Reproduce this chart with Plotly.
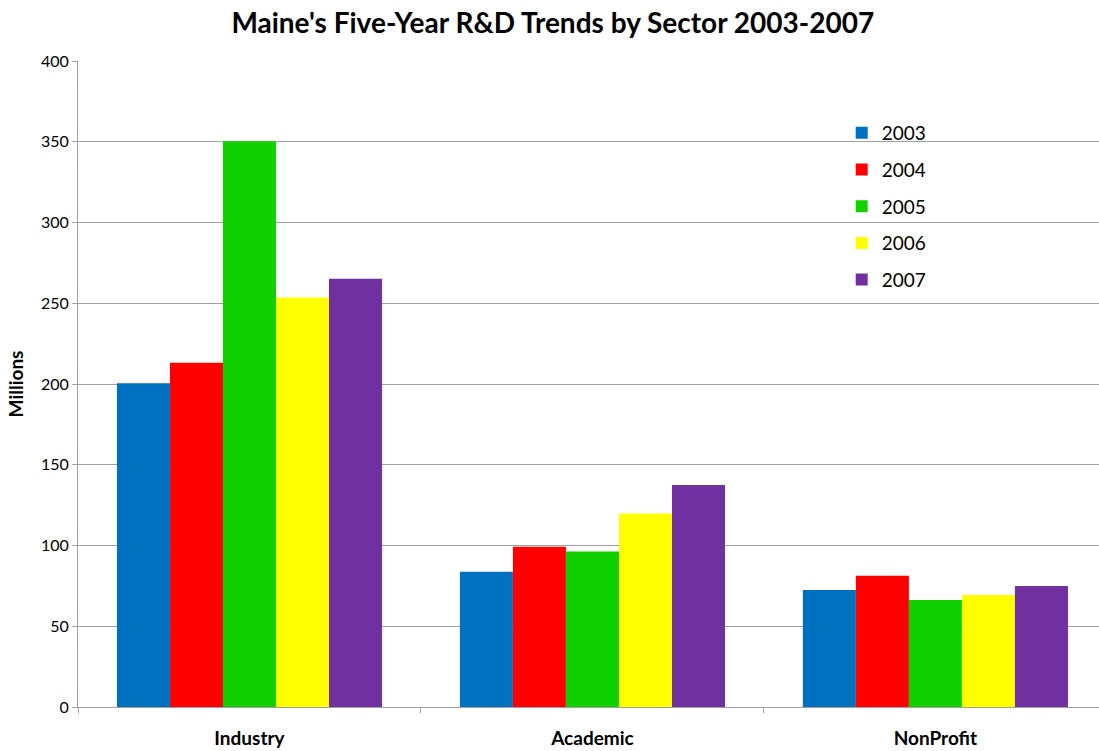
import plotly.graph_objects as go

categories = ["Industry", "Academic", "NonProfit"]
years = ["2003", "2004", "2005", "2006", "2007"]
v2003 = [200.5, 83.7, 72.5]
v2004 = [213.2, 99.3, 81.2]
v2005 = [350.3, 96.3, 66.3]
v2006 = [253.5, 119.8, 69.4]
v2007 = [265.2, 137.4, 75.0]
colors = ["#0070C0", "#FF0000", "#10D000", "#FFFF00", "#7030A0"]
y_ticks = [0, 50, 100, 150, 200, 250, 300, 350, 400]

series = [v2003, v2004, v2005, v2006, v2007]
fig = go.Figure()
for name, vals, c in zip(years, series, colors):
    fig.add_trace(go.Bar(x=categories, y=vals, name=name, marker_color=c,
                         marker_line_width=0, legendgroup=name))

FONT = "Lato, Open Sans, sans-serif"
fig.update_layout(
    width=1099, height=751,
    margin=dict(l=78, r=0, t=61, b=44),
    paper_bgcolor="white", plot_bgcolor="white",
    barmode="group", bargap=0.227, bargroupgap=0,
    font=dict(family=FONT, color="black"),
    title=dict(text="<b>Maine's Five-Year R&D Trends by Sector 2003-2007</b>",
               x=0.503, xref="container", xanchor="center",
               y=0.969, yref="container", yanchor="middle",
               font=dict(size=28, family=FONT, color="black")),
    xaxis=dict(range=[-0.5, 2.477], type="category", tickson="boundaries",
               ticks="outside", ticklen=5, tickcolor="#a0a0a0",
               showline=True, linecolor="#a0a0a0", linewidth=1,
               showgrid=False, tickfont=dict(size=19, family=FONT),
               ticklabelstandoff=14,
               tickprefix="<b>", ticksuffix="</b>", fixedrange=True),
    yaxis=dict(range=[0, 400], tickvals=y_ticks, ticks="outside", ticklen=5,
               tickcolor="#a0a0a0", showline=True, linecolor="#a0a0a0",
               linewidth=1, showgrid=True, gridcolor="#a0a0a0", gridwidth=1,
               zeroline=False, tickfont=dict(size=16, family=FONT),
               title=dict(text="<b>Millions</b>", font=dict(size=19, family=FONT),
                          standoff=12)),
    legend=dict(x=0.748, y=0.918, xanchor="left", yanchor="top",
                bgcolor="rgba(0,0,0,0)", font=dict(size=19, family=FONT),
                tracegroupgap=9, itemwidth=30),
)
fig.write_html("out.html")
